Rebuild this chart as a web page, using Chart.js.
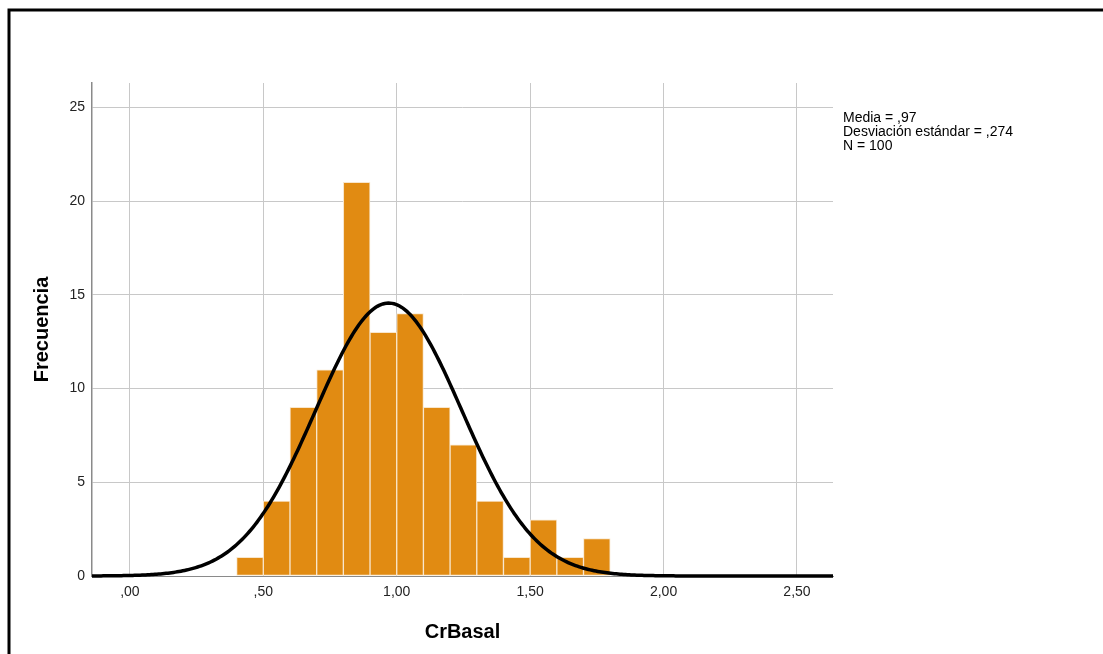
<!DOCTYPE html>
<html>
<head>
<meta charset="utf-8">
<title>CrBasal</title>
<script src="https://cdn.jsdelivr.net/npm/chart.js@4.4.1/dist/chart.umd.min.js"></script>
<style>
  html, body { margin: 0; padding: 0; background: #fff; overflow: hidden; }
  #wrap { position: relative; width: 1103px; height: 654px; }
  #stats {
    position: absolute; left: 843px; top: 110px;
    font: 14px/14px "Liberation Sans", Arial, sans-serif;
    color: #000; white-space: pre;
  }
</style>
</head>
<body>
<div id="wrap">
  <canvas id="c" width="1103" height="654"></canvas>
  <div id="stats"></div>
</div>
<script>
// Histogram bins (lower edge of each bin) and their counts
const binStarts = [0.4, 0.5, 0.6, 0.7, 0.8, 0.9, 1.0, 1.1, 1.2, 1.3, 1.4, 1.5, 1.6, 1.7];
const frequencies = [1, 4, 9, 11, 21, 13, 14, 9, 7, 4, 1, 3, 1, 2];
const binWidth = 0.1;

// Axis ticks
const xTicks = [0, 0.5, 1.0, 1.5, 2.0, 2.5];
const yTicks = [0, 5, 10, 15, 20, 25];
const xRange = [-0.142, 2.635];
const yRange = [0, 26.3];

// Summary statistics shown beside the plot
const mean = 0.97;
const stdDev = 0.274;
const count = 100;

const fmtComma = (v, digits) => {
  const s = v.toFixed(digits).replace('.', ',');
  return s.startsWith('0,') ? s.slice(1) : s;
};

document.getElementById('stats').textContent =
  'Media = ' + fmtComma(mean, 2) + '\n' +
  'Desviación estándar = ' + fmtComma(stdDev, 3) + '\n' +
  'N = ' + count;

const barPoints = binStarts.map((s, i) => ({ x: s + binWidth / 2, y: frequencies[i] }));

// Fitted normal curve, scaled to counts per bin: N * width * pdf(x)
const curvePoints = [];
const steps = 400;
for (let i = 0; i <= steps; i++) {
  const x = xRange[0] + (xRange[1] - xRange[0]) * i / steps;
  const z = (x - mean) / stdDev;
  const y = count * binWidth * Math.exp(-0.5 * z * z) / (stdDev * Math.sqrt(2 * Math.PI));
  curvePoints.push({ x, y });
}

const frame = {
  id: 'frame',
  afterDraw(chart) {
    const ctx = chart.ctx;
    ctx.save();
    ctx.strokeStyle = '#000';
    ctx.lineWidth = 3;
    ctx.beginPath();
    ctx.moveTo(9, 654);
    ctx.lineTo(9, 10);
    ctx.lineTo(1103, 10);
    ctx.stroke();
    ctx.restore();
  }
};

const tickFont = { family: '"Liberation Sans", Arial, sans-serif', size: 14 };
const titleFont = { family: '"Liberation Sans", Arial, sans-serif', size: 20, weight: 'bold' };

new Chart(document.getElementById('c'), {
  type: 'bar',
  data: {
    datasets: [
      {
        type: 'line',
        data: curvePoints,
        borderColor: '#000',
        borderWidth: 3.5,
        pointRadius: 0,
        tension: 0,
        fill: false,
        clip: false,
        order: 0
      },
      {
        type: 'bar',
        data: barPoints,
        backgroundColor: '#E18B12',
        borderColor: '#F8E6CC',
        borderWidth: 1,
        borderSkipped: false,
        barPercentage: 1.0,
        categoryPercentage: 1.0,
        order: 1
      }
    ]
  },
  options: {
    responsive: false,
    animation: false,
    devicePixelRatio: 1,
    layout: { padding: { left: 0, top: 83, right: 270, bottom: 0 } },
    plugins: { legend: { display: false }, tooltip: { enabled: false } },
    scales: {
      x: {
        type: 'linear',
        offset: false,
        min: xRange[0],
        max: xRange[1],
        afterBuildTicks: s => { s.ticks = xTicks.map(v => ({ value: v })); },
        afterFit: s => { s.height = 78; },
        grid: { offset: false, color: '#c8c8c8', lineWidth: 1, drawTicks: false },
        border: { color: '#8a8a8a', width: 1 },
        ticks: { font: tickFont, color: '#222', padding: 8, maxRotation: 0,
                 callback: v => fmtComma(v, 2) },
        title: { display: true, text: 'CrBasal', font: titleFont, color: '#000',
                 padding: { top: 0, bottom: 10 } }
      },
      y: {
        type: 'linear',
        min: yRange[0],
        max: yRange[1],
        afterBuildTicks: s => { s.ticks = yTicks.map(v => ({ value: v })); },
        afterFit: s => { s.width = 92; },
        grid: { color: '#c8c8c8', lineWidth: 1, drawTicks: false },
        border: { color: '#8a8a8a', width: 1.5 },
        ticks: { font: tickFont, color: '#222', padding: 7, callback: v => String(v) },
        title: { display: true, text: 'Frecuencia', font: titleFont, color: '#000',
                 padding: { top: 30, bottom: 0 } }
      }
    }
  },
  plugins: [frame]
});
</script>
</body>
</html>
